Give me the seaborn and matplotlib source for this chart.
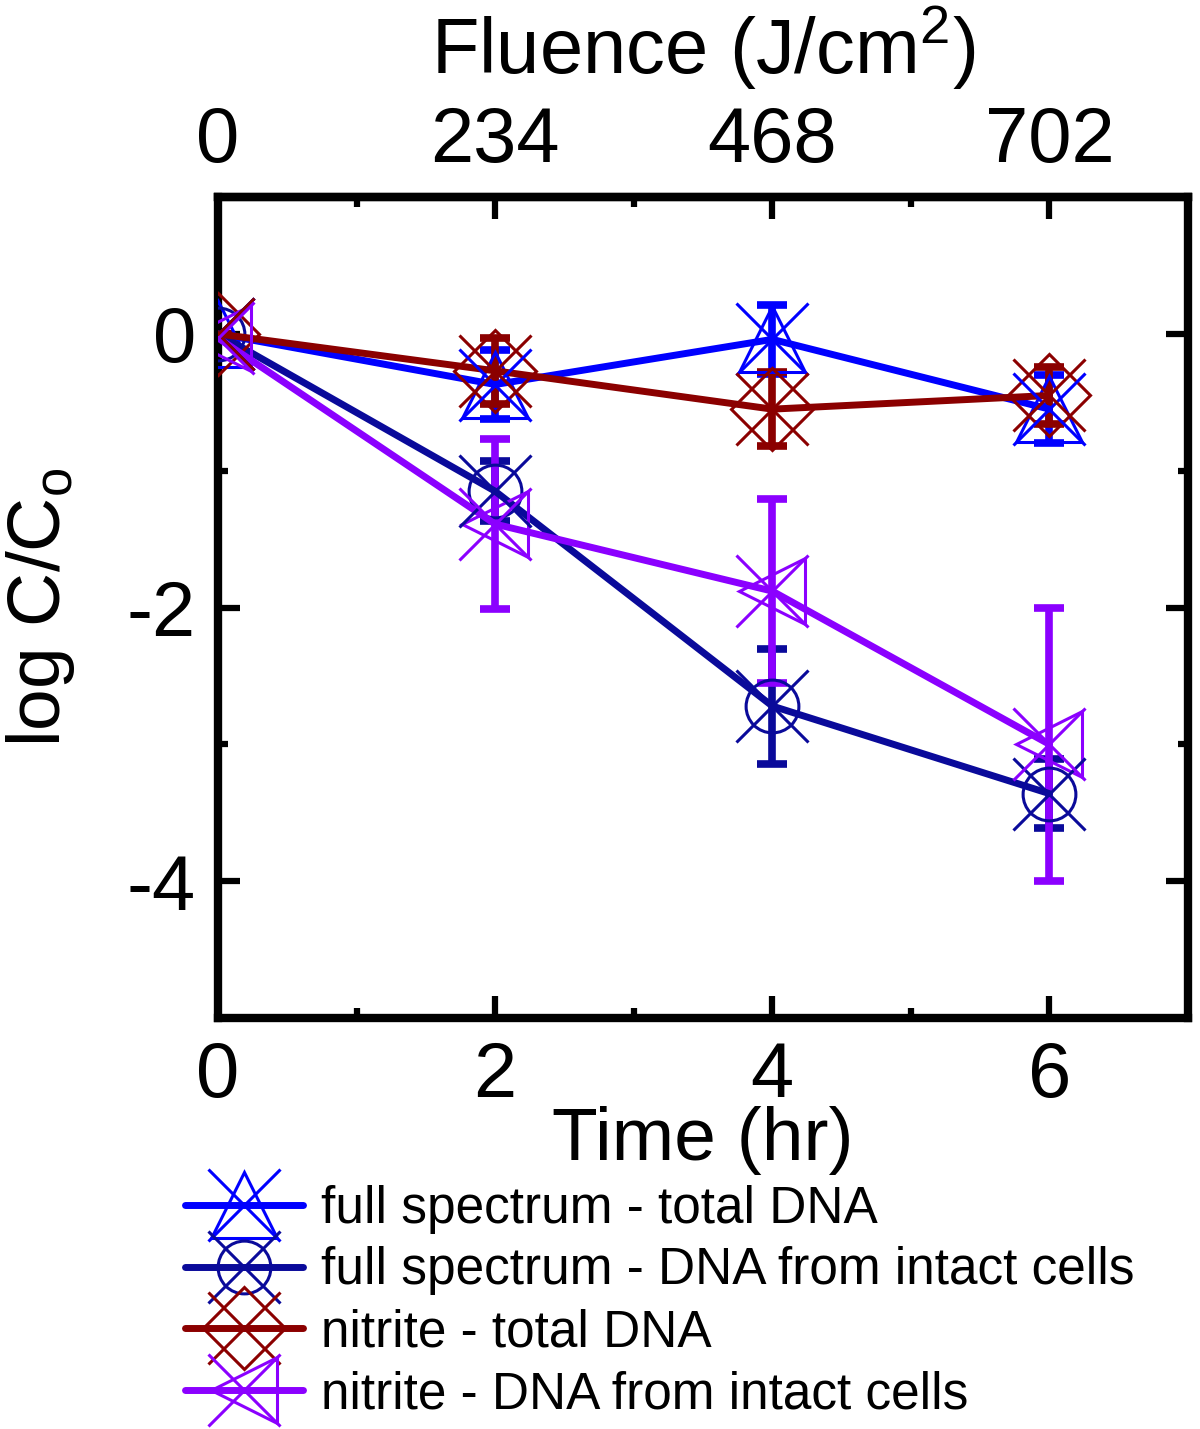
import numpy as np
import pandas as pd
import seaborn as sns
import matplotlib.pyplot as plt
from matplotlib.lines import Line2D
from matplotlib.legend_handler import HandlerTuple
from matplotlib.ticker import MultipleLocator, FixedLocator

sns.set_style('ticks')
plt.rcParams['font.family'] = ['Liberation Sans', 'DejaVu Sans']
plt.rcParams['axes.unicode_minus'] = False
plt.rcParams['text.color'] = 'black'
plt.rcParams['axes.labelcolor'] = 'black'
plt.rcParams['xtick.color'] = 'black'
plt.rcParams['ytick.color'] = 'black'
plt.rcParams['axes.edgecolor'] = 'black'

# data
time = [0, 2, 4, 6]
fluence_ticks = [0, 234, 468, 702]

fs_total = [0.0, -0.37, -0.04, -0.55]
fs_total_err = [0.0, 0.25, 0.25, 0.25]
fs_intact = [0.0, -1.15, -2.72, -3.36]
fs_intact_err = [0.0, 0.22, 0.42, 0.25]
nit_total = [0.0, -0.27, -0.55, -0.45]
nit_total_err = [0.0, 0.24, 0.27, 0.21]
nit_intact = [-0.03, -1.39, -1.88, -3.0]
nit_intact_err = [0.0, 0.62, 0.67, 1.0]

names = ['full spectrum - total DNA', 'full spectrum - DNA from intact cells',
         'nitrite - total DNA', 'nitrite - DNA from intact cells']
colors = ['#0000FF', '#0A0A9A', '#8B0000', '#8B00FF']
shapes = ['^', 'o', 'D', '<']
shape_ms = [48, 38, 42, 48]
vals = [fs_total, fs_intact, nit_total, nit_intact]
errs = [fs_total_err, fs_intact_err, nit_total_err, nit_intact_err]

df = pd.concat([pd.DataFrame({'time': time, 'val': v, 'err': e, 'series': n})
                for n, v, e in zip(names, vals, errs)], ignore_index=True)

fig = plt.figure(figsize=(12, 14.29), dpi=100)
ax = fig.add_axes([0.1817, 0.2876, 0.8083, 0.5745])

lw = 5
xms = 52
handles = []
for n, c, s, sm in zip(names, colors, shapes, shape_ms):
    d = df[df['series'] == n]
    ax.errorbar(d['time'], d['val'], yerr=d['err'], fmt='none', ecolor=c,
                elinewidth=5.5, capsize=11, capthick=5.5, zorder=2)
    sns.lineplot(data=d, x='time', y='val', color=c, lw=lw, marker=s, ms=sm,
                 mfc='none', mec=c, mew=2.2, ax=ax, zorder=3, legend=False)
    ax.plot(d['time'], d['val'], ls='none', marker='x', ms=xms, mec=c, mew=2.2, zorder=4)
    h1 = Line2D([], [], color=c, lw=lw, marker=s, ms=sm, mfc='none', mec=c, mew=2.2)
    h2 = Line2D([], [], ls='none', marker='x', ms=xms, mec=c, mew=2.2)
    handles.append((h1, h2))

ax.set_xlim(0, 7)
ax.set_ylim(-5, 1)
ax.set_xticks([0, 2, 4, 6])
ax.xaxis.set_minor_locator(MultipleLocator(1))
ax.set_yticks([0, -2, -4])
ax.yaxis.set_minor_locator(MultipleLocator(1))
ax.tick_params(which='both', direction='in', width=4.5, labelsize=56,
               top=False, right=True, pad=16)
ax.tick_params(which='major', length=16)
ax.tick_params(which='minor', length=7)
for sp in ax.spines.values():
    sp.set_linewidth(6)
ax.set_xlabel('Time (hr)', fontsize=54, labelpad=-5)
ax.set_ylabel('log C/C$_\\mathregular{o}$', fontsize=54, labelpad=36)

sec = ax.secondary_xaxis('top', functions=(lambda t: t * 117, lambda f: f / 117))
sec.set_xticks(fluence_ticks)
sec.xaxis.set_minor_locator(FixedLocator([117, 351, 585, 819]))
sec.tick_params(which='both', direction='in', width=4.5, labelsize=56, pad=14)
sec.tick_params(which='major', length=16)
sec.tick_params(which='minor', length=7)
sec.spines['top'].set_linewidth(6)
sec.set_xlabel('Fluence (J/cm$^\\mathregular{2}$)', fontsize=56, labelpad=22)

fig.legend(handles, names, handler_map={tuple: HandlerTuple(ndivide=1, pad=0)},
           loc='upper left', bbox_to_anchor=(0.154, 0.171), frameon=False,
           fontsize=37, borderpad=0, handlelength=2.3, handletextpad=0.35,
           labelspacing=0.25, borderaxespad=0)

fig.savefig('out.png', dpi=100)
